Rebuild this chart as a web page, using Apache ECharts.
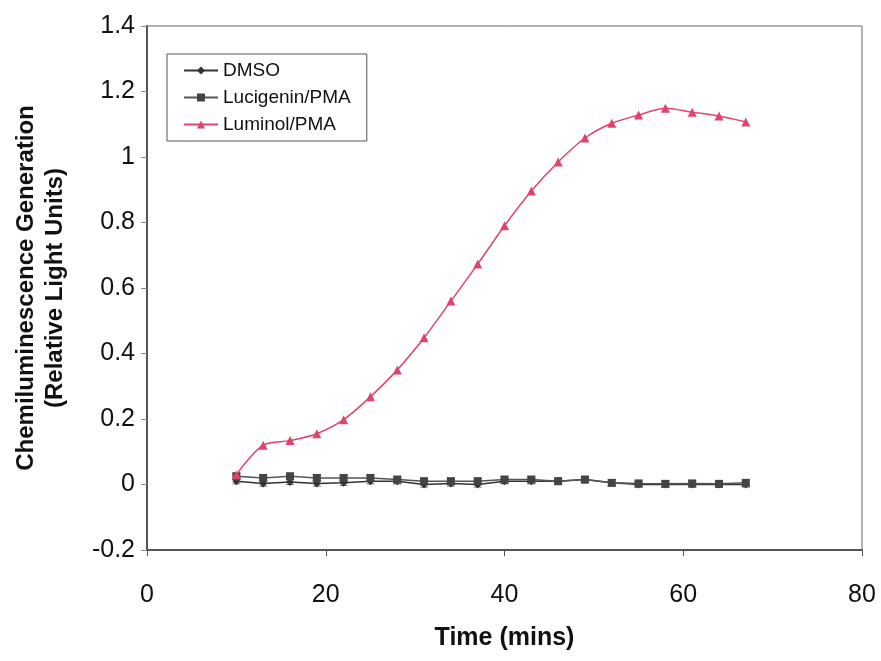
<!DOCTYPE html>
<html>
<head>
    <meta charset="utf-8">
    <title>Chemiluminescence</title>
    <script src="https://cdn.jsdelivr.net/npm/echarts@6/dist/echarts.min.js"></script>
    <style>
        html, body { margin: 0; padding: 0; background: #fff; }
        #chart { width: 881px; height: 661px; }
    </style>
</head>
<body>
<div id="chart"></div>
<script>
    // time points (mins)
    var times = [10, 13, 16, 19, 22, 25, 28, 31, 34, 37, 40, 43, 46, 49, 52, 55, 58, 61, 64, 67];
    var dmso = [0.01, 0.003, 0.008, 0.003, 0.005, 0.01, 0.01, 0.0, 0.003, 0.0, 0.01, 0.01, 0.01, 0.015, 0.005, 0.0, 0.0, 0.0, 0.0, 0.0];
    var dmsoErr = [0.008, 0.008, 0.008, 0.008, 0.008, 0.008, 0.008, 0.008, 0.008, 0.008, 0.008, 0.008, 0.008, 0.008, 0.008, 0.008, 0.008, 0.008, 0.008, 0.008];
    var lucigenin = [0.025, 0.02, 0.025, 0.02, 0.02, 0.02, 0.015, 0.01, 0.01, 0.01, 0.015, 0.015, 0.01, 0.015, 0.005, 0.003, 0.002, 0.003, 0.002, 0.005];
    var lucigeninErr = [0.01, 0.01, 0.01, 0.01, 0.01, 0.01, 0.01, 0.01, 0.01, 0.01, 0.01, 0.01, 0.01, 0.01, 0.01, 0.01, 0.01, 0.01, 0.01, 0.01];
    var luminol = [0.03, 0.12, 0.134, 0.155, 0.198, 0.268, 0.35, 0.448, 0.56, 0.673, 0.79, 0.896, 0.985, 1.058, 1.103, 1.128, 1.149, 1.137, 1.125, 1.107];
    var yTicks = [-0.2, 0, 0.2, 0.4, 0.6, 0.8, 1, 1.2, 1.4];

    function pairs(xs, ys) {
        return xs.map(function (x, i) { return [x, ys[i]]; });
    }
    function errData(xs, ys, es) {
        return xs.map(function (x, i) { return [x, ys[i] - es[i], ys[i] + es[i]]; });
    }
    function errRender(params, api) {
        var lo = api.coord([api.value(0), api.value(1)]);
        var hi = api.coord([api.value(0), api.value(2)]);
        var w = 4;
        var st = { stroke: '#777', lineWidth: 1 };
        return {
            type: 'group',
            children: [
                { type: 'line', shape: { x1: lo[0], y1: lo[1], x2: hi[0], y2: hi[1] }, style: st },
                { type: 'line', shape: { x1: lo[0] - w, y1: lo[1], x2: lo[0] + w, y2: lo[1] }, style: st },
                { type: 'line', shape: { x1: hi[0] - w, y1: hi[1], x2: hi[0] + w, y2: hi[1] }, style: st }
            ]
        };
    }

    var chart = echarts.init(document.getElementById('chart'));
    var font = '"Liberation Sans", Arial, sans-serif';

    var option = {
        backgroundColor: '#fff',
        animation: false,
        textStyle: { fontFamily: font },
        grid: {
            left: 147, right: 19, top: 26, bottom: 111,
            show: true, borderColor: '#666', borderWidth: 1
        },
        legend: {
            orient: 'vertical',
            left: 167, top: 54,
            padding: [7, 16, 7, 16],
            itemGap: 8,
            itemWidth: 34, itemHeight: 10,
            borderColor: '#555', borderWidth: 1,
            backgroundColor: '#fff',
            textStyle: { fontSize: 19, color: '#111', fontFamily: font },
            data: ['DMSO', 'Lucigenin/PMA', 'Luminol/PMA']
        },
        xAxis: {
            type: 'value', min: 0, max: 80, interval: 20,
            name: 'Time (mins)', nameLocation: 'middle', nameGap: 76,
            nameTextStyle: { fontSize: 25, fontWeight: 'bold', color: '#111' },
            axisLine: { onZero: false, lineStyle: { color: '#555', width: 2 } },
            axisTick: { show: true, length: 6, lineStyle: { color: '#555' } },
            axisLabel: { fontSize: 25, color: '#111', margin: 33 },
            splitLine: { show: false }
        },
        yAxis: {
            type: 'value', min: -0.2, max: 1.4, interval: 0.2,
            name: 'Chemiluminescence Generation\n(Relative Light Units)',
            nameLocation: 'middle', nameGap: 77, nameRotate: 90,
            nameTextStyle: { fontSize: 24, fontWeight: 'bold', color: '#111', lineHeight: 29 },
            axisLine: { show: true, onZero: false, lineStyle: { color: '#555', width: 2 } },
            axisTick: { show: true, length: 6, lineStyle: { color: '#888' } },
            axisLabel: {
                fontSize: 25, color: '#111', margin: 12,
                formatter: function (v) {
                    var t = yTicks.reduce(function (a, b) { return Math.abs(b - v) < Math.abs(a - v) ? b : a; });
                    return String(t);
                }
            },
            splitLine: { show: false }
        },
        series: [
            {
                name: 'DMSO-err', type: 'custom', renderItem: errRender,
                data: errData(times, dmso, dmsoErr), z: 1, silent: true
            },
            {
                name: 'Lucigenin-err', type: 'custom', renderItem: errRender,
                data: errData(times, lucigenin, lucigeninErr), z: 1, silent: true
            },
            {
                name: 'DMSO', type: 'line', data: pairs(times, dmso),
                symbol: 'diamond', symbolSize: 8,
                lineStyle: { color: '#333', width: 1.5 },
                itemStyle: { color: '#333' }, z: 3
            },
            {
                name: 'Lucigenin/PMA', type: 'line', data: pairs(times, lucigenin),
                symbol: 'rect', symbolSize: 8,
                lineStyle: { color: '#555', width: 1.5 },
                itemStyle: { color: '#444' }, z: 3
            },
            {
                name: 'Luminol/PMA', type: 'line', data: pairs(times, luminol),
                symbol: 'triangle', symbolSize: 9, smooth: 0.3,
                lineStyle: { color: '#e0446e', width: 1.5 },
                itemStyle: { color: '#e0446e' }, z: 4
            }
        ]
    };

    chart.setOption(option);
</script>
</body>
</html>
